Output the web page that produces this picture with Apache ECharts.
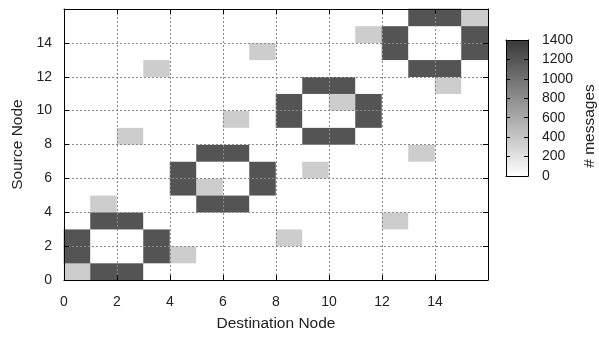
<!DOCTYPE html>
<html><head><meta charset="utf-8">
<script src="https://cdn.jsdelivr.net/npm/echarts@6/dist/echarts.min.js"></script>
<style>html,body{margin:0;padding:0;background:#fff}#c{width:599px;height:337px}</style>
</head><body><div id="c"></div>
<script>
// Node indices (destination = x, source = y)
const nodes = [0,1,2,3,4,5,6,7,8,9,10,11,12,13,14,15];
// messages[source][destination]
const messages = [
  [350,1200,1200,0,0,0,0,0,0,0,0,0,0,0,0,0],
  [1200,0,0,1200,350,0,0,0,0,0,0,0,0,0,0,0],
  [1200,0,0,1200,0,0,0,0,350,0,0,0,0,0,0,0],
  [0,1200,1200,0,0,0,0,0,0,0,0,0,350,0,0,0],
  [0,350,0,0,0,1200,1200,0,0,0,0,0,0,0,0,0],
  [0,0,0,0,1200,350,0,1200,0,0,0,0,0,0,0,0],
  [0,0,0,0,1200,0,0,1200,0,350,0,0,0,0,0,0],
  [0,0,0,0,0,1200,1200,0,0,0,0,0,0,350,0,0],
  [0,0,350,0,0,0,0,0,0,1200,1200,0,0,0,0,0],
  [0,0,0,0,0,0,350,0,1200,0,0,1200,0,0,0,0],
  [0,0,0,0,0,0,0,0,1200,0,350,1200,0,0,0,0],
  [0,0,0,0,0,0,0,0,0,1200,1200,0,0,0,350,0],
  [0,0,0,350,0,0,0,0,0,0,0,0,0,1200,1200,0],
  [0,0,0,0,0,0,0,350,0,0,0,0,1200,0,0,1200],
  [0,0,0,0,0,0,0,0,0,0,0,350,1200,0,0,1200],
  [0,0,0,0,0,0,0,0,0,0,0,0,0,1200,1200,350]
];
const axisTicks = [0,2,4,6,8,10,12,14];
const colorbarTicks = [0,200,400,600,800,1000,1200,1400];

const data = [];
messages.forEach((row, s) => row.forEach((v, d) => data.push([d, s, v])));

const FONT = 'Liberation Sans, Arial, sans-serif';
const txt = {color:'#222', fontFamily: FONT, fontSize: 14};
const nameTxt = {color:'#222', fontFamily: FONT, fontSize: 15.5};
const dotted = {show:true, lineStyle:{color:'#8a8a8a', type:[2,2], width:1}};
const blackLine = {show:true, onZero:false, lineStyle:{color:'#000', width:1}};
const inTick = {show:true, inside:true, length:5, lineStyle:{color:'#000'}};
const cbTick = {show:true, inside:true, length:4, lineStyle:{color:'#000'}};
const tickFmt = v => axisTicks.includes(v) ? String(v) : '';

const chart = echarts.init(document.getElementById('c'), null, {renderer:'canvas'});
chart.setOption({
  backgroundColor:'#fff',
  animation:false,
  grid:[
    {left:64, right:111, top:9, bottom:56},
    {left:506, top:40, width:23, height:136}
  ],
  xAxis:[
    {type:'category', data:nodes, gridIndex:0, show:false},
    {type:'value', gridIndex:0, position:'bottom', min:0, max:16, interval:2, z:5,
     axisLine:blackLine, axisTick:inTick, splitLine:dotted,
     axisLabel:Object.assign({margin:15, formatter:tickFmt}, txt),
     name:'Destination Node', nameLocation:'middle', nameGap:36, nameTextStyle:nameTxt},
    {type:'value', gridIndex:0, position:'top', min:0, max:16, interval:2, z:5,
     axisLine:blackLine, axisTick:inTick, splitLine:{show:false}, axisLabel:{show:false}},
    {type:'value', gridIndex:1, position:'bottom', min:0, max:1, z:6,
     axisLine:blackLine, axisTick:{show:false}, splitLine:{show:false}, axisLabel:{show:false}},
    {type:'value', gridIndex:1, position:'top', min:0, max:1, z:6,
     axisLine:blackLine, axisTick:{show:false}, splitLine:{show:false}, axisLabel:{show:false}}
  ],
  yAxis:[
    {type:'category', data:nodes, gridIndex:0, show:false},
    {type:'value', gridIndex:0, position:'left', min:0, max:16, interval:2, z:5,
     axisLine:blackLine, axisTick:inTick, splitLine:dotted,
     axisLabel:Object.assign({margin:12, formatter:tickFmt}, txt),
     name:'Source Node', nameLocation:'middle', nameGap:38, nameTextStyle:nameTxt},
    {type:'value', gridIndex:0, position:'right', min:0, max:16, interval:2, z:5,
     axisLine:blackLine, axisTick:inTick, splitLine:{show:false}, axisLabel:{show:false}},
    {type:'value', gridIndex:1, position:'right', min:0, max:1400, interval:200, z:6,
     axisLine:blackLine, axisTick:cbTick, splitLine:{show:false},
     axisLabel:Object.assign({margin:14, formatter:v => colorbarTicks.includes(v) ? String(v) : ''}, txt),
     name:'# messages', nameLocation:'middle', nameRotate:90, nameGap:54,
     nameTextStyle:Object.assign({padding:[0,36,0,0]}, nameTxt)},
    {type:'value', gridIndex:1, position:'left', min:0, max:1400, interval:200, z:6,
     axisLine:blackLine, axisTick:cbTick, splitLine:{show:false}, axisLabel:{show:false}}
  ],
  visualMap:{
    type:'continuous', min:0, max:1400, seriesIndex:0, calculable:false,
    left:506, top:40, itemWidth:23, itemHeight:136, padding:0, z:2,
    inRange:{color:['#ffffff','#383838']}, text:null, showLabel:false
  },
  series:[{
    type:'heatmap', xAxisIndex:0, yAxisIndex:0, data:data,
    itemStyle:{borderWidth:0}, emphasis:{disabled:true}, progressive:0
  }]
});
</script></body></html>
